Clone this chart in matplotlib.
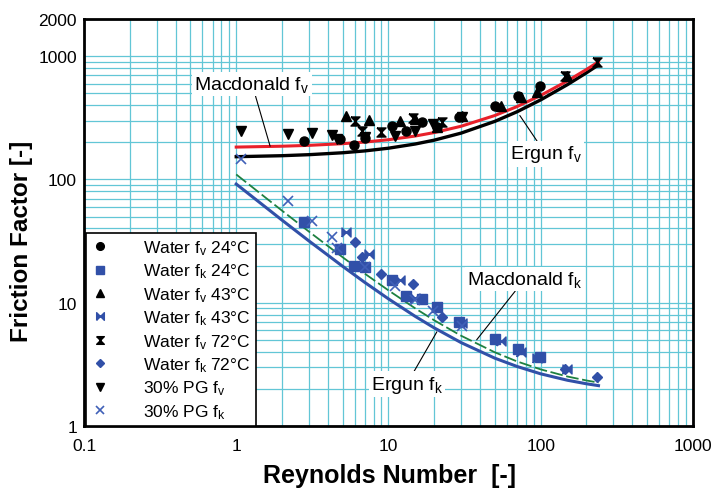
"""Friction factor vs Reynolds number: packed bed data against Ergun and Macdonald."""

import matplotlib

matplotlib.use("Agg")
from matplotlib import pyplot as plt

plt.rcParams["font.family"] = ["Liberation Sans", "DejaVu Sans"]
plt.rcParams["mathtext.fontset"] = "custom"
plt.rcParams["mathtext.rm"] = "Liberation Sans"
plt.rcParams["mathtext.it"] = "Liberation Sans"

# model curves
re_model = [1, 2, 3, 5, 7, 10, 15, 20, 30, 50, 70, 100, 150, 200, 240]
ergun_fv = [152.9, 155.8, 158.8, 164.6, 170.4, 179.2, 193.8, 208.3, 237.5, 295.8, 354, 441.7, 587.5, 733, 850]
macdonald_fv = [183, 186, 189, 195, 201, 210, 225, 240, 270, 330, 390, 480, 630, 780, 900]
ergun_fk = [91.75, 46.75, 31.75, 19.75, 14.6, 10.75, 7.75, 6.25, 4.75, 3.55, 3.04, 2.65, 2.35, 2.2, 2.125]
macdonald_fk = [109.8, 55.8, 37.8, 23.4, 17.2, 12.6, 9.0, 7.2, 5.4, 3.96, 3.34, 2.88, 2.52, 2.34, 2.25]

# measured points
re_w24 = [2.8, 4.8, 5.9, 7.0, 10.6, 13.0, 16.7, 21, 29, 50, 71, 99]
fv_w24 = [205, 213, 190, 218, 271, 247, 292, 266, 320, 394, 475, 571]
fk_w24 = [45, 27.3, 19.9, 19.6, 15.3, 11.3, 10.7, 9.2, 7.0, 5.1, 4.2, 3.6]

re_w43 = [5.3, 7.5, 11.9, 15, 21, 30.5, 55, 74, 94, 148]
fv_w43 = [327, 302, 298, 312, 266, 327, 394, 470, 512, 690]
fk_w43 = [37.4, 24.8, 15.3, 11.0, 9.2, 6.9, 4.9, 4.0, 3.55, 2.9]

re_w72 = [6.0, 6.7, 8.9, 14.5, 22.4, 144, 234]
fv_w72 = [298, 247, 243, 317, 290, 690, 896]
fk_w72 = [31, 23.5, 17.1, 14.2, 7.65, 2.9, 2.5]

re_pg = [1.07, 2.19, 3.15, 4.26, 4.6, 7.0, 11, 14.9, 19.6, 30.5]
fv_pg = [247, 233, 238, 229, 213, 220, 224, 247, 281, 320]
fk_pg = [146, 66.8, 46, 34, 28, 19.6, 13.7, 10.6, 8.6, 6.5]

x_ticks = [0.1, 1, 10, 100, 1000]
y_ticks = [1, 10, 100, 1000, 2000]

BLUE = "#3150a8"
HOURGLASS = [(-1, 1), (1, 1), (-1, -1), (1, -1), (-1, 1)]
BOWTIE = [(-1, -1), (-1, 1), (1, -1), (1, 1), (-1, -1)]

fig = plt.figure(figsize=(7.15, 4.89), dpi=100)
ax = fig.add_axes([0.1175, 0.1268, 0.8515, 0.8322])
ax.set_xscale("log")
ax.set_yscale("log")
ax.set_xlim(0.1, 1000)
ax.set_ylim(1, 2000)

ax.grid(True, which="both", color="#62c6d6", linewidth=0.9)
ax.set_axisbelow(True)

ms = 6.5
ax.plot(re_w24, fv_w24, "o", color="black", ms=ms, ls="none", label="Water f$_v$ 24°C", zorder=4)
ax.plot(re_w24, fk_w24, "s", color=BLUE, ms=ms, ls="none", label="Water f$_k$ 24°C", zorder=4)
ax.plot(re_w43, fv_w43, "^", color="black", ms=ms, ls="none", label="Water f$_v$ 43°C", zorder=4)
ax.plot(re_w43, fk_w43, marker=BOWTIE, color=BLUE, ms=ms, ls="none", label="Water f$_k$ 43°C", zorder=4)
ax.plot(re_w72, fv_w72, marker=HOURGLASS, color="black", ms=ms, ls="none", label="Water f$_v$ 72°C", zorder=4)
ax.plot(re_w72, fk_w72, "D", color=BLUE, ms=ms - 1.5, ls="none", label="Water f$_k$ 72°C", zorder=4)
ax.plot(re_pg, fv_pg, "v", color="black", ms=ms, ls="none", label="30% PG f$_v$", zorder=4)
ax.plot(re_pg, fk_pg, "x", color="#4060b8", ms=ms + 1, mew=1.2, ls="none", label="30% PG f$_k$", zorder=4)

ax.plot(re_model, ergun_fv, color="black", lw=2.4, zorder=3)
ax.plot(re_model, macdonald_fv, color="#e8202a", lw=2.2, zorder=3)
ax.plot(re_model, ergun_fk, color=BLUE, lw=2.2, zorder=3)
ax.plot(re_model, macdonald_fk, color="#1e8040", lw=1.3, dashes=(7, 2), zorder=3)

box = dict(facecolor="white", edgecolor="none", pad=1.5)
line = dict(arrowstyle="-", color="black", lw=0.8, shrinkA=0, shrinkB=0)
ax.annotate("Macdonald f$_v$", xy=(1.67, 186), xytext=(1.27, 594), ha="center", va="center",
            fontsize=14, bbox=box, arrowprops=line, zorder=5)
ax.annotate("Ergun f$_v$", xy=(73, 330), xytext=(108, 161), ha="center", va="center",
            fontsize=14, bbox=box, arrowprops=line, zorder=5)
ax.annotate("Macdonald f$_k$", xy=(38, 5.0), xytext=(78.8, 15.6), ha="center", va="center",
            fontsize=14, bbox=box, arrowprops=line, zorder=5)
ax.annotate("Ergun f$_k$", xy=(20.8, 5.8), xytext=(13.2, 2.19), ha="center", va="center",
            fontsize=14, bbox=box, arrowprops=line, zorder=5)

ax.set_xticks(x_ticks)
ax.set_xticklabels([f"{v:g}" for v in x_ticks])
ax.set_yticks(y_ticks)
ax.set_yticklabels([f"{v:g}" for v in y_ticks])
ax.tick_params(which="both", length=0, labelsize=12.5, pad=5)
ax.tick_params(axis="x", pad=9)
for spine in ax.spines.values():
    spine.set_linewidth(2)
    spine.set_color("black")

ax.set_xlabel("Reynolds Number  [-]", fontsize=18, fontweight="bold", va="center")
ax.set_ylabel("Friction Factor [-]", fontsize=17.5, fontweight="bold", va="center")
ax.xaxis.set_label_coords(0.501, -0.120)
ax.yaxis.set_label_coords(-0.102, 0.455)

leg = ax.legend(loc="lower left", bbox_to_anchor=(0.003, 0.0), fontsize=12.5, frameon=True,
                fancybox=False, edgecolor="black", framealpha=1, borderaxespad=0,
                handletextpad=2.0, labelspacing=0.27, borderpad=0.3, handlelength=1.0,
                markerscale=0.85)
leg.get_frame().set_linewidth(1.2)
leg.set_zorder(6)

fig.savefig("out.png", dpi=100)
